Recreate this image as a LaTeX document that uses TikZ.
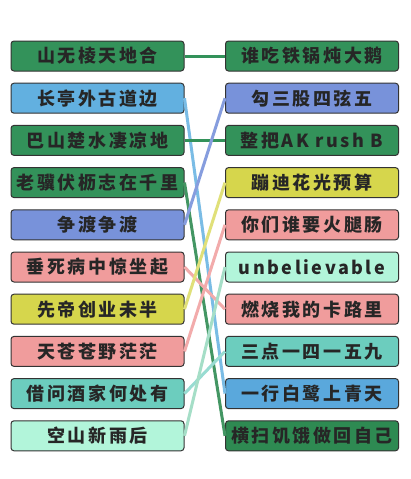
\documentclass[tikz,border=0pt]{standalone}
\usepackage{fontspec}
\setmainfont{Noto Sans CJK SC}[LetterSpace=14]
\definecolor{boxgreen}{HTML}{33925A}
\definecolor{boxdkgreen}{HTML}{2E8A52}
\definecolor{boxsky}{HTML}{62B0E0}
\definecolor{boxblue}{HTML}{5AA8DC}
\definecolor{boxviolet}{HTML}{7892DA}
\definecolor{boxpink}{HTML}{F09C9C}
\definecolor{boxyellow}{HTML}{D6D64C}
\definecolor{boxteal}{HTML}{6CCDBE}
\definecolor{boxmint}{HTML}{B2F5DA}
\begin{document}
\begin{tikzpicture}[x=1pt, y=-1pt, node distance=42.2pt,
  box/.style = {draw=black!80, line width=1pt, rounded corners=3pt,
    minimum width=173pt, minimum height=30pt, inner sep=0pt,
    text=black!85, font=\fontsize{18}{18}\selectfont\bfseries},
  link/.style = {line width=3pt}]

\useasboundingbox[fill=white] (0,0) rectangle (410,479);

\node[box, fill=boxgreen] (l1) at (97.5,56) {山无棱天地合};
\node[box, fill=boxsky] (l2) [below of=l1] {长亭外古道边};
\node[box, fill=boxgreen] (l3) [below of=l2] {巴山楚水凄凉地};
\node[box, fill=boxgreen] (l4) [below of=l3] {老骥伏枥志在千里};
\node[box, fill=boxviolet] (l5) [below of=l4] {争渡争渡};
\node[box, fill=boxpink] (l6) [below of=l5] {垂死病中惊坐起};
\node[box, fill=boxyellow] (l7) [below of=l6] {先帝创业未半};
\node[box, fill=boxpink] (l8) [below of=l7] {天苍苍野茫茫};
\node[box, fill=boxteal] (l9) [below of=l8] {借问酒家何处有};
\node[box, fill=boxmint] (l10) [below of=l9] {空山新雨后};

\node[box, fill=boxgreen] (r1) at (312,56) {谁吃铁锅炖大鹅};
\node[box, fill=boxviolet] (r2) [below of=r1] {勾三股四弦五};
\node[box, fill=boxgreen] (r3) [below of=r2] {整把AK rush B};
\node[box, fill=boxyellow] (r4) [below of=r3] {蹦迪花光预算};
\node[box, fill=boxpink] (r5) [below of=r4] {你们谁要火腿肠};
\node[box, fill=boxmint] (r6) [below of=r5] {unbelievable};
\node[box, fill=boxpink] (r7) [below of=r6] {燃烧我的卡路里};
\node[box, fill=boxteal] (r8) [below of=r7] {三点一四一五九};
\node[box, fill=boxblue] (r9) [below of=r8] {一行白鹭上青天};
\node[box, fill=boxdkgreen] (r10) [below of=r9] {横扫饥饿做回自己};

\draw[link, boxgreen] (l1) -- (r1);
\draw[link, boxsky!85] (l2.east) -- (r9.west);
\draw[link, boxgreen] (l3) -- (r3);
\draw[link, boxdkgreen!90] (l4.east) -- (r10.west);
\draw[link, boxviolet!90] (l5.east) -- (r2.west);
\draw[link, boxpink!85] (l6.east) -- (r7.west);
\draw[link, boxyellow!75] (l7.east) -- (r4.west);
\draw[link, boxpink!85] (l8.east) -- (r5.west);
\draw[link, boxteal!70] (l9.east) -- (r8.west);
\draw[link, boxmint!90!black!95] (l10.east) -- (r6.west);

\end{tikzpicture}
\end{document}
